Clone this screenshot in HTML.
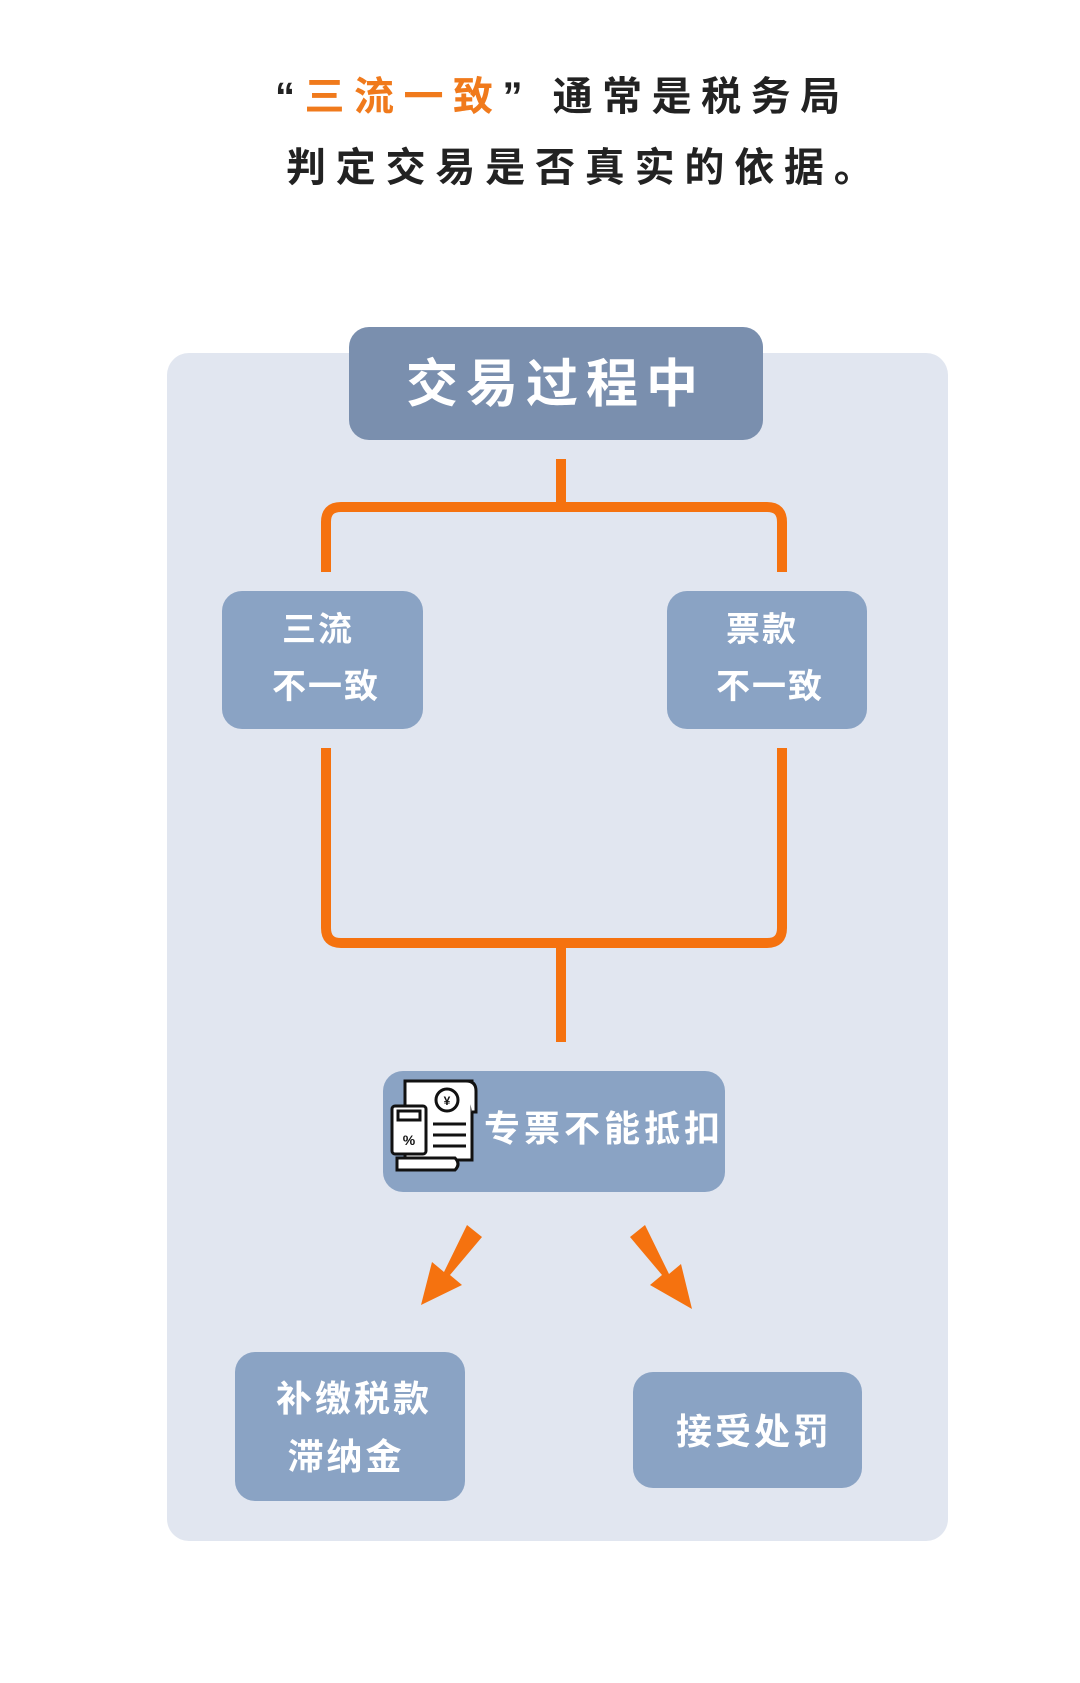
<!DOCTYPE html>
<html><head><meta charset="utf-8"><style>
html,body{margin:0;padding:0;background:#fff;}
svg{display:block;}
text{font-family:"Liberation Sans","Noto Sans CJK SC",sans-serif;font-weight:bold;}
</style></head><body>
<svg width="1080" height="1683" viewBox="0 0 1080 1683" xmlns="http://www.w3.org/2000/svg">
<rect width="1080" height="1683" fill="#fff"/>
<text x="275" y="110" font-size="40" letter-spacing="9.5" fill="#222">“<tspan fill="#f07a1c">三流一致</tspan>” 通常是税务局</text>
<text x="286" y="181" font-size="40" letter-spacing="9.8" fill="#222">判定交易是否真实的依据。</text>
<rect x="167" y="353" width="781" height="1188" rx="22" fill="#e1e6f0"/>
<rect x="349" y="327" width="414" height="113" rx="20" fill="#7a8fae"/>
<text x="556" y="402" font-size="52" letter-spacing="8" fill="#fff" text-anchor="middle">交易过程中</text>
<g fill="none" stroke="#f5720f" stroke-width="10">
<path d="M561 459 V507"/>
<path d="M326 572 V522 q0 -15 15 -15 H767 q15 0 15 15 V572"/>
<path d="M326 748 V928 q0 15 15 15 H767 q15 0 15 -15 V748"/>
<path d="M561 943 V1042"/>
</g>
<rect x="222" y="591" width="201" height="138" rx="20" fill="#8aa3c4"/>
<rect x="667" y="591" width="200" height="138" rx="20" fill="#8aa3c4"/>
<text x="318" y="641" font-size="34" fill="#fff" text-anchor="middle" letter-spacing="2">三流</text>
<text x="326" y="698" font-size="34" fill="#fff" text-anchor="middle" letter-spacing="2">不一致</text>
<text x="762" y="641" font-size="34" fill="#fff" text-anchor="middle" letter-spacing="2">票款</text>
<text x="770" y="698" font-size="34" fill="#fff" text-anchor="middle" letter-spacing="2">不一致</text>
<rect x="383" y="1071" width="342" height="121" rx="20" fill="#8aa3c4"/>
<g stroke="#111" stroke-width="3" fill="#fff">
<path d="M405 1081 H472 V1160 H405 Z"/>
<path d="M466 1081 q10 0 10 10 V1112 H472"/>
<path d="M397 1158 H455 q6 6 0 12 H397 Z"/>
<rect x="392" y="1106" width="34" height="48" rx="3"/>
<rect x="398" y="1111" width="22" height="9"/>
<circle cx="447" cy="1100" r="11"/>
</g>
<text x="409" y="1145" font-size="14" fill="#111" text-anchor="middle">%</text>
<text x="447" y="1105" font-size="12" fill="#111" text-anchor="middle">¥</text>
<g stroke="#111" stroke-width="3"><path d="M433 1124 H466 M433 1135 H466 M433 1146 H466"/></g>
<text x="484" y="1141" font-size="36" fill="#fff" letter-spacing="4">专票不能抵扣</text>
<g fill="#f5720f">
<path d="M467 1225 L482 1237 L450 1275 L462 1285 L421 1305 L432 1262 L444 1272 Z"/>
<path d="M645 1225 L630 1237 L662 1275 L650 1285 L692 1309 L681 1264 L669 1274 Z"/>
</g>
<rect x="235" y="1352" width="230" height="149" rx="20" fill="#8aa3c4"/>
<rect x="633" y="1372" width="229" height="116" rx="20" fill="#8aa3c4"/>
<text x="354" y="1411" font-size="36" fill="#fff" text-anchor="middle" letter-spacing="3">补缴税款</text>
<text x="346" y="1469" font-size="36" fill="#fff" text-anchor="middle" letter-spacing="3">滞纳金</text>
<text x="754" y="1444" font-size="36" fill="#fff" text-anchor="middle" letter-spacing="3">接受处罚</text>
</svg>
</body></html>
